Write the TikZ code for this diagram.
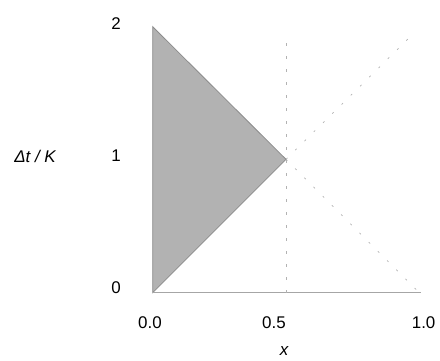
\documentclass[tikz,border=0pt]{standalone}
\usepackage{fontspec}
\setmainfont{Liberation Sans}
\begin{document}
\begin{tikzpicture}[
    x=1bp, y=-1bp,
    lbl/.style={font=\fontsize{17}{20}\selectfont, inner sep=0pt},
    region/.style={fill=black!30, draw=black!45, line width=0.8bp},
    axisline/.style={draw=black!35, line width=0.8bp},
    guide/.style={draw=black!30, line width=0.6bp, dash pattern=on 3bp off 10bp},
    diag/.style={draw=black!30, line width=0.7bp, dash pattern=on 2bp off 11bp}
]
\useasboundingbox (0,0) rectangle (440,360);
% corner points of the region
\coordinate (orig) at (152.7,292.7);
\coordinate (apex) at (152.7,26.7);
\coordinate (tip) at (286,159.3);
\coordinate (xend) at (420.7,292.7);
\coordinate (vtop) at (286,37.7);
\coordinate (vbot) at (286,292.7);
\coordinate (dtop) at (409.3,37.7);
\coordinate (dbot) at (419.3,292.7);

\filldraw[region] (orig) -- (apex) -- (tip) -- cycle;
\draw[axisline] (orig) -- (xend);
\draw[guide] (vbot) -- (vtop);
\draw[diag] (tip) -- (dtop);
\draw[diag] (tip) -- (dbot);

% ticks
\node[lbl] (y0) at (116,288) {0};
\node[lbl] (y1) at (116,156) {1};
\node[lbl] (y2) at (116,24) {2};
\node[lbl] (x0) at (150,322.7) {0.0};
\node[lbl] (x5) at (274,322.7) {0.5};
\node[lbl] (x10) at (423.6,322.7) {1.0};

\node[lbl] (xlab) at (284,351) {\itshape x};
\node[lbl] (ylab) at (35,156.7) {\itshape Δt / K};
\end{tikzpicture}
\end{document}
